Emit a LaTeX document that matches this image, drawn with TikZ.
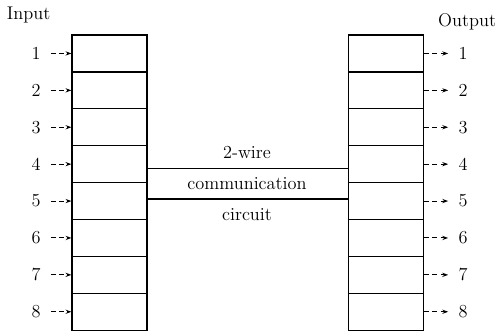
\documentclass[tikz,border=0pt]{standalone}
\usepackage{tikz}
\usetikzlibrary{arrows.meta,calc,positioning}
\tikzset{
  >=stealth,
  line cap=round,
  line join=round,
  cell/.style={draw, minimum width=45pt, minimum height=22.1pt, inner sep=0pt, line width=0.7pt},
  pin/.style={-{Stealth[length=3.5pt,width=2.5pt]}, densely dashed, line width=0.6pt},
  wire/.style={line width=0.7pt},
  lbl/.style={font=\fontsize{11}{13}\selectfont, inner sep=1pt}
}
\begin{document}
\begin{tikzpicture}[x=0.6pt,y=-0.6pt]
  \useasboundingbox (0,0) rectangle (500,331);

  \node[lbl, anchor=west] (inlbl) at (5,15) {Input};
  \node[lbl, anchor=east] (outlbl) at (498,22) {Output};

  \foreach \i in {1,...,8}{
    \node[cell] (in\i) at (109.5,{35+36.9*(\i-0.5)}) {};
    \node[cell] (out\i) at (386,{35+36.9*(\i-0.5)}) {};
    \node[lbl] (ni\i) at (36,{35+36.9*(\i-0.5)}) {\i};
    \node[lbl] (no\i) at (463,{35+36.9*(\i-0.5)}) {\i};
    \draw[pin, shorten <=5pt] (ni\i.east) -- (in\i.west);
    \draw[pin, shorten >=5pt] (out\i.east) -- (no\i.west);
  }

  % two-wire link
  \draw[wire] ($(in4.east)+(0,4)$) -- ($(out4.west)+(0,4)$);
  \draw[wire] ($(in5.east)+(0,-2)$) -- ($(out5.west)+(0,-2)$);

  \node[lbl] (twowire) at (247,152) {2-wire};
  \node[lbl] (comm) at (247,184) {communication};
  \node[lbl] (circ) at (247,215) {circuit};
\end{tikzpicture}
\end{document}
